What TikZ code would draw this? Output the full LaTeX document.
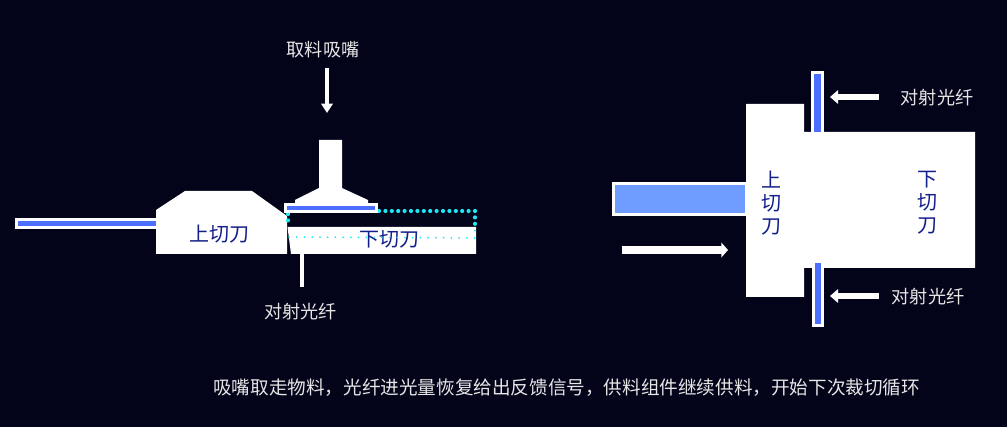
\documentclass[tikz,border=0pt]{standalone}
\usepackage{fontspec}
\setmainfont{Noto Sans CJK SC}
\usetikzlibrary{arrows.meta}
\definecolor{bgc}{HTML}{03041A}
\definecolor{fibre}{HTML}{4D6FFF}
\definecolor{matl}{HTML}{6F9CFF}
\definecolor{bladetxt}{HTML}{14208A}
\definecolor{lbl}{HTML}{E6E6E6}
\definecolor{dots}{HTML}{1FE8F5}
\tikzset{
  blade/.style={fill=white,draw=none},
  fibrebar/.style={fill=fibre,draw=white,line width=2.25pt},
  lab/.style={text=lbl,font=\fontsize{13.6pt}{16pt}\selectfont,inner sep=0pt},
  bladelab/.style={text=bladetxt,font=\fontsize{15pt}{17pt}\selectfont,inner sep=0pt},
  vlab/.style={bladelab,align=center,font=\fontsize{15pt}{17.3pt}\selectfont},
  fatarrow/.style={draw=white,line width=4pt,-{Triangle[length=6pt,width=10pt]}},
  widearrow/.style={draw=white,line width=5.6pt,-{Triangle[length=5pt,width=11pt]}},
  thickdots/.style={draw=dots,line width=3.1pt,line cap=round,dash pattern=on 0pt off 4.8pt},
  thindots/.style={draw=dots,line width=1.5pt,line cap=round,dash pattern=on 0pt off 5.8pt}
}
\begin{document}
\begin{tikzpicture}[x=0.75pt,y=-0.75pt]
\useasboundingbox[fill=bgc] (0,0) rectangle (1007,427);
% left: feed strip and upper blade
\draw[fibrebar] (16.5,219.5) rectangle (157,227.5);
\path[blade] (156,210) -- (185,191) -- (252,191) -- (287,216) -- (287,254) -- (156,254) -- cycle;
\node[bladelab] (upperL) at (219,234) {上切刀};
% lower blade
\path[blade] (287.5,227) -- (476,227) -- (476,254) -- (291,254) -- cycle;
\node[bladelab] (lowerL) at (389,239) {下切刀};
% dotted light path
\coordinate (da) at (379,211); \coordinate (db) at (475,211); \coordinate (dc) at (475,238);
\coordinate (dd) at (289,237); \coordinate (de) at (288,214);
\draw[thickdots] (da) -- (db) -- (475,228);
\draw[thickdots] (de) -- (288,226);
\draw[thindots] (dd) -- (dc) -- (475,228);
% nozzle
\path[blade] (319,140) -- (342,140) -- (342,188) -- (368,200) -- (368,204) -- (295,204) -- (295,200) -- (319,188) -- cycle;
\draw[fibrebar] (285,204.5) rectangle (376,212);
% fibre stub below
\coordinate (fa) at (302,254); \coordinate (fb) at (302,287);
\draw[white,line width=3pt] (fa) -- (fb);
\node[lab] (fibreL) at (300.5,312) {对射光纤};
% nozzle label
\node[lab] (nozzleL) at (323,50) {取料吸嘴};
\coordinate (na) at (327,68); \coordinate (nz) at (327,113);
\draw[white,line width=2.8pt,-{Triangle[length=7pt,width=8.5pt]}] (na) -- (nz);
% right: blades
\path[blade] (746,104) -- (804,104) -- (804,132) -- (975,132) -- (975,268) -- (804,268) -- (804,297) -- (746,297) -- cycle;
\node[vlab] (upperR) at (771,203) {上\\切\\刀};
\node[vlab] (lowerR) at (927,203) {下\\切\\刀};
% material
\draw[draw=white,fill=matl,line width=2.25pt] (613.5,183.5) rectangle (746,214.5);
% right fibres
\draw[fibrebar] (812.5,73) rectangle (822.5,134);
\draw[fibrebar] (813.5,262) rectangle (822.5,326);
% arrows
\coordinate (ma) at (622,250); \coordinate (mb) at (728,250);
\draw[widearrow] (ma) -- (mb);
\node[lab] (topL) at (937,98) {对射光纤};
\node[lab] (botL) at (928,297) {对射光纤};
\coordinate (ta) at (879,97); \coordinate (tb) at (830,97);
\coordinate (ba) at (879,296); \coordinate (bb) at (830,296);
\draw[fatarrow] (ta) -- (tb);
\draw[fatarrow] (ba) -- (bb);
% caption
\node[lab,anchor=west,font=\fontsize{13.95pt}{16pt}\selectfont] (caption) at (213,388) {吸嘴取走物料，光纤进光量恢复给出反馈信号，供料组件继续供料，开始下次裁切循环};
\end{tikzpicture}
\end{document}
